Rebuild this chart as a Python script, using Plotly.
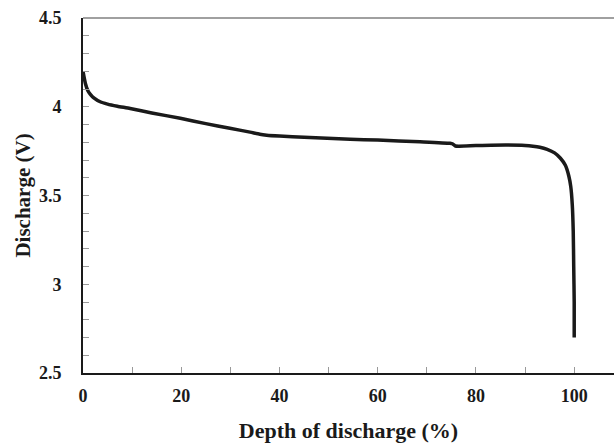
import plotly.graph_objects as go

depth = [0, 0.2, 0.5, 1.0, 1.5, 2.2, 3.5, 5, 7, 9.6, 14, 19.8, 25, 29.9, 34, 36, 37.4, 40, 45, 54.4, 60, 68.6, 74.7, 75.3, 75.8, 80, 86, 90, 91.6, 93, 94.5, 96, 97.2, 98.2, 98.9, 99.3, 99.6, 99.8, 99.9, 100, 100]
voltage = [4.2, 4.17, 4.13, 4.09, 4.07, 4.05, 4.028, 4.015, 4.003, 3.99, 3.965, 3.935, 3.905, 3.879, 3.857, 3.845, 3.84, 3.835, 3.828, 3.817, 3.812, 3.803, 3.794, 3.79, 3.779, 3.781, 3.784, 3.782, 3.778, 3.772, 3.76, 3.74, 3.71, 3.67, 3.61, 3.55, 3.45, 3.3, 3.1, 2.9, 2.7]

x_ticks = [0, 20, 40, 60, 80, 100]
y_ticks = [2.5, 3, 3.5, 4, 4.5]

font_family = "Liberation Serif"

fig = go.Figure()
fig.add_trace(go.Scatter(
    x=depth, y=voltage, mode="lines",
    line=dict(color="#1a1a1a", width=3.5, shape="spline", smoothing=0.6),
    showlegend=False, hoverinfo="skip",
))

fig.update_layout(
    width=614, height=443,
    margin=dict(l=83, r=0, t=18, b=70),
    paper_bgcolor="white", plot_bgcolor="white",
    font=dict(family=font_family, color="#1a1a1a"),
    shapes=[dict(type="line", xref="paper", yref="paper", x0=0, x1=1, y0=1, y1=1,
                 line=dict(color="#808080", width=1.5))],
)

fig.update_xaxes(
    range=[0, 108.1], tickvals=x_ticks, ticktext=[str(v) for v in x_ticks],
    showgrid=False, zeroline=False,
    showline=True, linecolor="#1a1a1a", linewidth=2,
    ticks="inside", ticklen=6, tickcolor="#999999", tickwidth=1,
    minor=dict(ticks="inside", dtick=10, tick0=0, ticklen=6, tickcolor="#999999", tickwidth=1),
    tickfont=dict(family=font_family, size=18, color="#1a1a1a", weight="bold"),
    ticklabelstandoff=5,
    title=dict(text="<b>Depth of discharge (%)</b>", font=dict(family=font_family, size=22, color="#1a1a1a"),
               standoff=19),
)

fig.update_yaxes(
    range=[2.5, 4.5], tickvals=y_ticks, ticktext=["2.5", "3", "3.5", "4", "4.5"],
    showgrid=False, zeroline=False,
    showline=True, linecolor="#1a1a1a", linewidth=2,
    ticks="inside", ticklen=6, tickcolor="#999999", tickwidth=1,
    minor=dict(ticks="inside", dtick=0.1, tick0=2.5, ticklen=6, tickcolor="#999999", tickwidth=1),
    tickfont=dict(family=font_family, size=18, color="#1a1a1a", weight="bold"),
    ticklabelstandoff=16,
    title=dict(text="<b>Discharge (V)</b>", font=dict(family=font_family, size=21, color="#1a1a1a"),
               standoff=3),
)

fig.write_html("out.html")
